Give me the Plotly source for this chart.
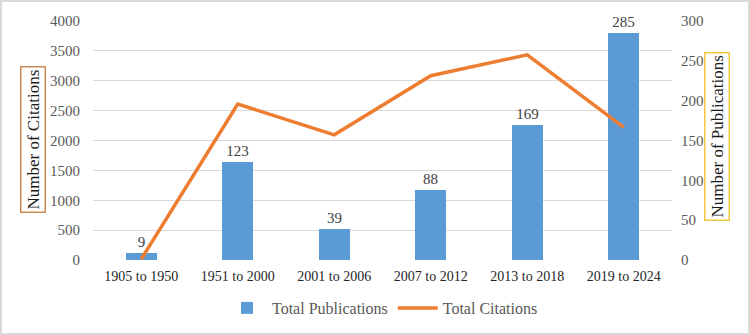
import plotly.graph_objects as go

categories = ["1905 to 1950", "1951 to 2000", "2001 to 2006", "2007 to 2012", "2013 to 2018", "2019 to 2024"]
publications = [9, 123, 39, 88, 169, 285]
citations = [15, 2610, 2095, 3085, 3435, 2220]
left_ticks = [0, 500, 1000, 1500, 2000, 2500, 3000, 3500, 4000]
right_ticks = [0, 50, 100, 150, 200, 250, 300]

FONT = "Liberation Serif, Times New Roman, serif"
GRAY = "#595959"

fig = go.Figure()
# bars on the primary axis (drawn on the right), line on the overlaying axis (left) so it sits on top
fig.add_trace(go.Bar(
    x=categories, y=publications, name="Total Publications", yaxis="y",
    marker=dict(color="#5B9BD5", line=dict(width=8, color="rgba(0,0,0,0)")), width=0.32,
    text=[str(v) for v in publications], textposition="outside",
    textfont=dict(family=FONT, size=15, color="#404040"), cliponaxis=False,
))
fig.add_trace(go.Scatter(
    x=categories, y=citations, name="Total Citations", mode="lines", yaxis="y2",
    line=dict(color="#ED7D31", width=3.5),
))

L, R, T, B = 93, 78, 21, 75
W, H = 750, 335
pw, ph = W - L - R, H - T - B

fig.update_layout(
    width=W, height=H, margin=dict(l=L, r=R, t=T, b=B, autoexpand=False),
    paper_bgcolor="white", plot_bgcolor="white",
    font=dict(family=FONT, size=14, color=GRAY),
    showlegend=True, bargap=0,
    legend=dict(orientation="h", x=0.5, xanchor="center", y=-(308 - (H - B)) / ph, yanchor="middle",
                font=dict(family=FONT, size=16, color=GRAY), traceorder="normal",
                itemwidth=40),
    xaxis=dict(showgrid=False, showline=False, ticks="", ticklabelstandoff=6,
               tickfont=dict(family=FONT, size=14, color="#262626")),
    yaxis=dict(range=[0, 300], tickvals=right_ticks, side="right",
               showgrid=False, zeroline=False, showline=False, ticks="", ticklabelstandoff=8,
               tickfont=dict(family=FONT, size=15, color=GRAY)),
    yaxis2=dict(range=[0, 4000], tickvals=left_ticks, overlaying="y", side="left",
                showgrid=True, gridcolor="#D9D9D9", layer="below traces",
                gridwidth=1, zeroline=False, showline=False, ticks="", ticklabelstandoff=12,
                tickfont=dict(family=FONT, size=15, color=GRAY)),
    annotations=[
        dict(text="Number of Citations", textangle=-90, xref="paper", yref="paper",
             x=(33 - L) / pw, y=1 - ((62 + 218) / 2 - T) / ph,
             xanchor="center", yanchor="middle", showarrow=False,
             font=dict(family=FONT, size=17, color="#1a1a1a"),
             bordercolor="#C98A55", borderwidth=1.5, borderpad=2, bgcolor="white"),
        dict(text="Number of Publications", textangle=-90, xref="paper", yref="paper",
             x=(717 - L) / pw, y=1 - ((52 + 222) / 2 - T) / ph,
             xanchor="center", yanchor="middle", showarrow=False,
             font=dict(family=FONT, size=17, color="#1a1a1a"),
             bordercolor="#F5C842", borderwidth=1.5, borderpad=2, bgcolor="white"),
    ],
    shapes=[dict(type="rect", xref="paper", yref="paper",
                 x0=(1 - L) / pw, x1=(W - 1 - L) / pw,
                 y0=(B - 1) / -ph, y1=1 + (T - 1) / ph,
                 line=dict(color="#D9D9D9", width=2), fillcolor="rgba(0,0,0,0)")],
)

fig.write_html("out.html")
